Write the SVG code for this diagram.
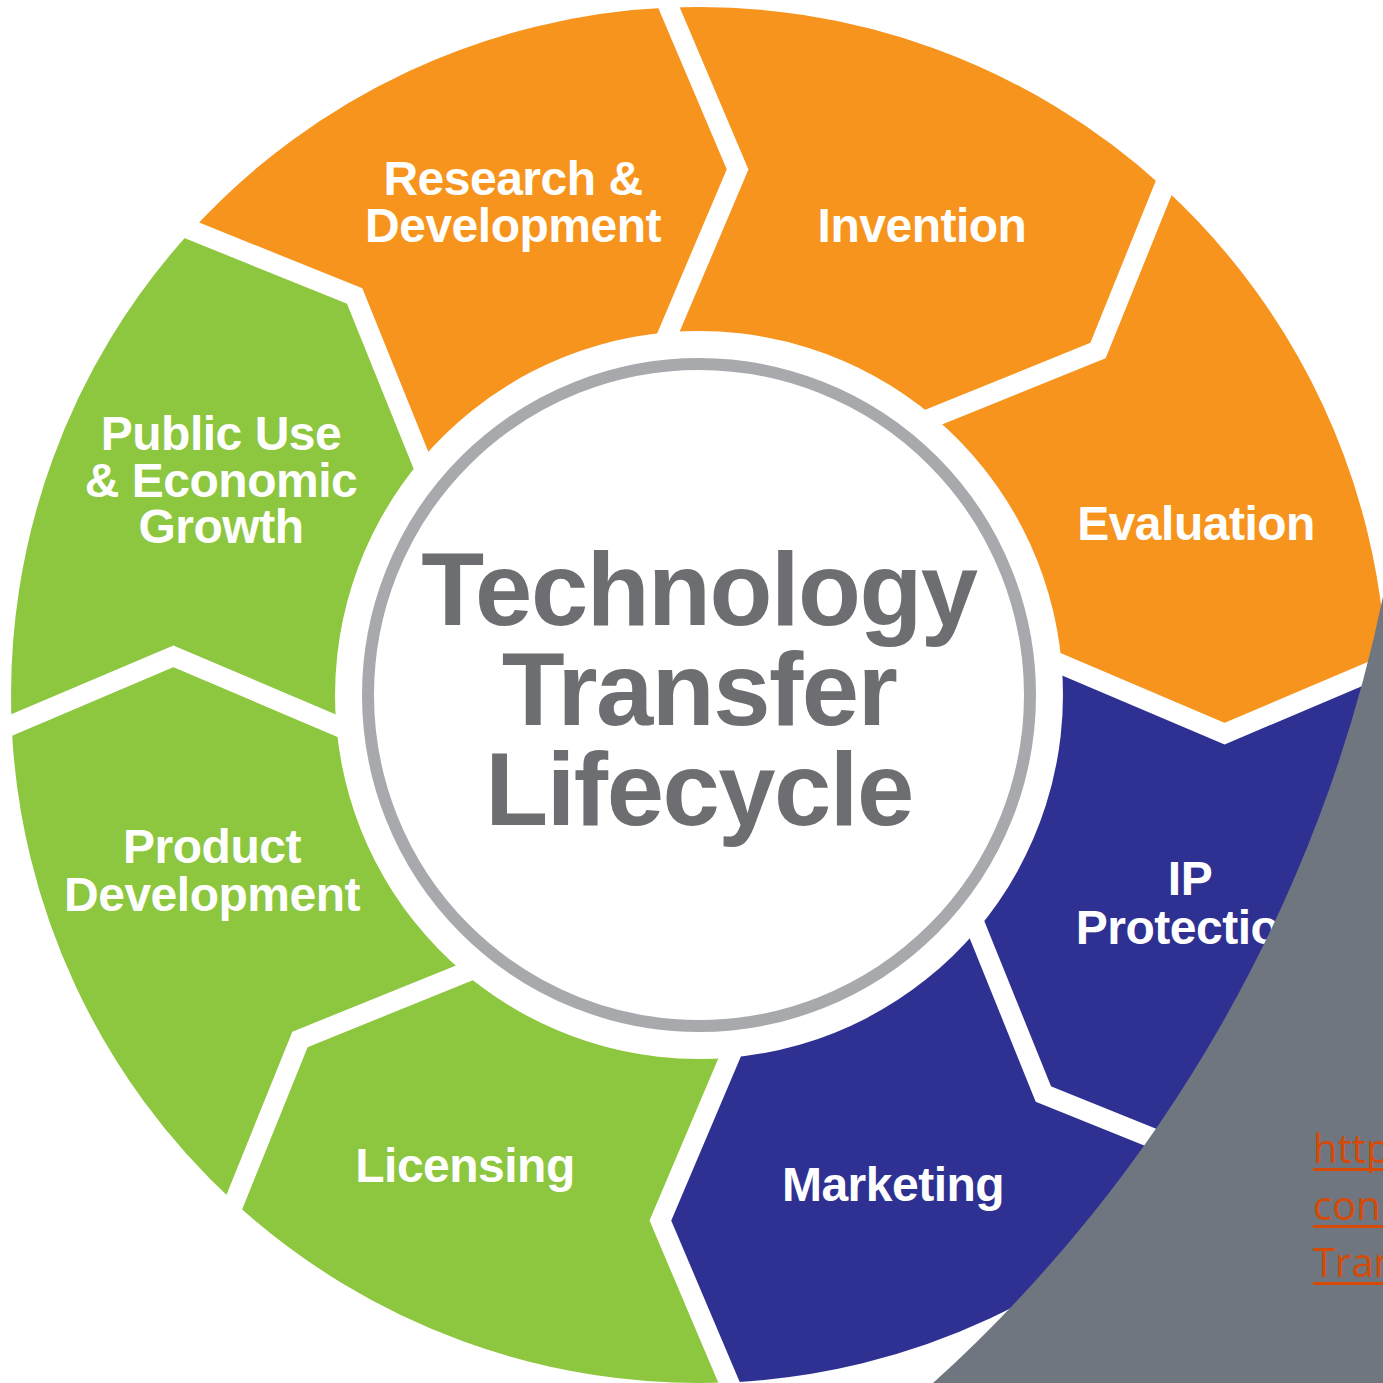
<svg xmlns="http://www.w3.org/2000/svg" width="1383" height="1383" viewBox="0 0 1383 1383">
<defs>
<path id="seg" d="M668.5,332.3 L737.6,169.4 L669.0,7.7 A688,688 0 0 1 1163.8,187.7 L1097.9,350.7 L933.9,417.0 A364,364 0 0 0 668.5,332.3 Z"/>
<path id="sep" d="M663.8,343.3 L737.6,169.4 L664.3,-3.4"/>
</defs>
<style>
.orange{fill:#f7941d}
.green{fill:#8dc63f}
.navy{fill:#2e3192}
.lbl{font-family:"Liberation Sans",Arial,Helvetica,sans-serif;font-weight:bold;font-size:48px;fill:#ffffff;text-anchor:middle;letter-spacing:-0.5px}
.gap{fill:none;stroke:#ffffff;stroke-width:20;stroke-linejoin:miter}
.title{font-family:"Liberation Sans",Arial,Helvetica,sans-serif;font-weight:bold;font-size:103px;fill:#6d6e71;text-anchor:middle;letter-spacing:-1.5px}
.link{font-family:"Open Sans","Liberation Sans",sans-serif;font-size:40px;fill:#d54a06}
.uline{stroke:#d54a06;stroke-width:3}
</style>
<rect width="1383" height="1383" fill="#ffffff"/>

<g id="node-research">
<use href="#seg" class="orange" transform="rotate(315 699 695)"/>
<text class="lbl" x="513" y="195">Research &amp;</text>
<text class="lbl" x="513" y="242">Development</text>
</g>
<g id="node-invention">
<use href="#seg" class="orange"/>
<text class="lbl" x="922" y="242">Invention</text>
</g>
<g id="node-evaluation">
<use href="#seg" class="orange" transform="rotate(45 699 695)"/>
<text class="lbl" x="1196" y="540">Evaluation</text>
</g>
<g id="node-ip">
<use href="#seg" class="navy" transform="rotate(90 699 695)"/>
<text class="lbl" x="1190" y="895">IP</text>
<text class="lbl" x="1192" y="944">Protection</text>
</g>
<g id="node-marketing">
<use href="#seg" class="navy" transform="rotate(135 699 695)"/>
<text class="lbl" x="893" y="1201">Marketing</text>
</g>
<g id="node-licensing">
<use href="#seg" class="green" transform="rotate(180 699 695)"/>
<text class="lbl" x="465" y="1182">Licensing</text>
</g>
<g id="node-product">
<use href="#seg" class="green" transform="rotate(225 699 695)"/>
<text class="lbl" x="212" y="863">Product</text>
<text class="lbl" x="212" y="911">Development</text>
</g>
<g id="node-public">
<use href="#seg" class="green" transform="rotate(270 699 695)"/>
<text class="lbl" x="221" y="450">Public Use</text>
<text class="lbl" x="221" y="497">&amp; Economic</text>
<text class="lbl" x="221" y="543">Growth</text>
</g>

<g id="gaps">
<use href="#sep" class="gap"/>
<use href="#sep" class="gap" transform="rotate(45 699 695)"/>
<use href="#sep" class="gap" transform="rotate(90 699 695)"/>
<use href="#sep" class="gap" transform="rotate(135 699 695)"/>
<use href="#sep" class="gap" transform="rotate(180 699 695)"/>
<use href="#sep" class="gap" transform="rotate(225 699 695)"/>
<use href="#sep" class="gap" transform="rotate(270 699 695)"/>
<use href="#sep" class="gap" transform="rotate(315 699 695)"/>
</g>

<g id="node-center">
<circle cx="699" cy="695" r="331" fill="#ffffff" stroke="#a7a9ac" stroke-width="12"/>
<text class="title" x="699" y="625">Technology</text>
<text class="title" x="699" y="725">Transfer</text>
<text class="title" x="699" y="825">Lifecycle</text>
</g>

<g id="overlay">
<path d="M1383,596.6 A1457,1457 0 0 1 933,1383 L1383,1383 Z" fill="#6f7680"/>
<text class="link" x="1313" y="1163">http</text>
<text class="link" x="1313" y="1220">con</text>
<text class="link" x="1313" y="1277">Tran</text>
<line class="uline" x1="1313" y1="1169.5" x2="1383" y2="1169.5"/>
<line class="uline" x1="1313" y1="1226.5" x2="1383" y2="1226.5"/>
<line class="uline" x1="1313" y1="1283.5" x2="1383" y2="1283.5"/>
</g>
</svg>
